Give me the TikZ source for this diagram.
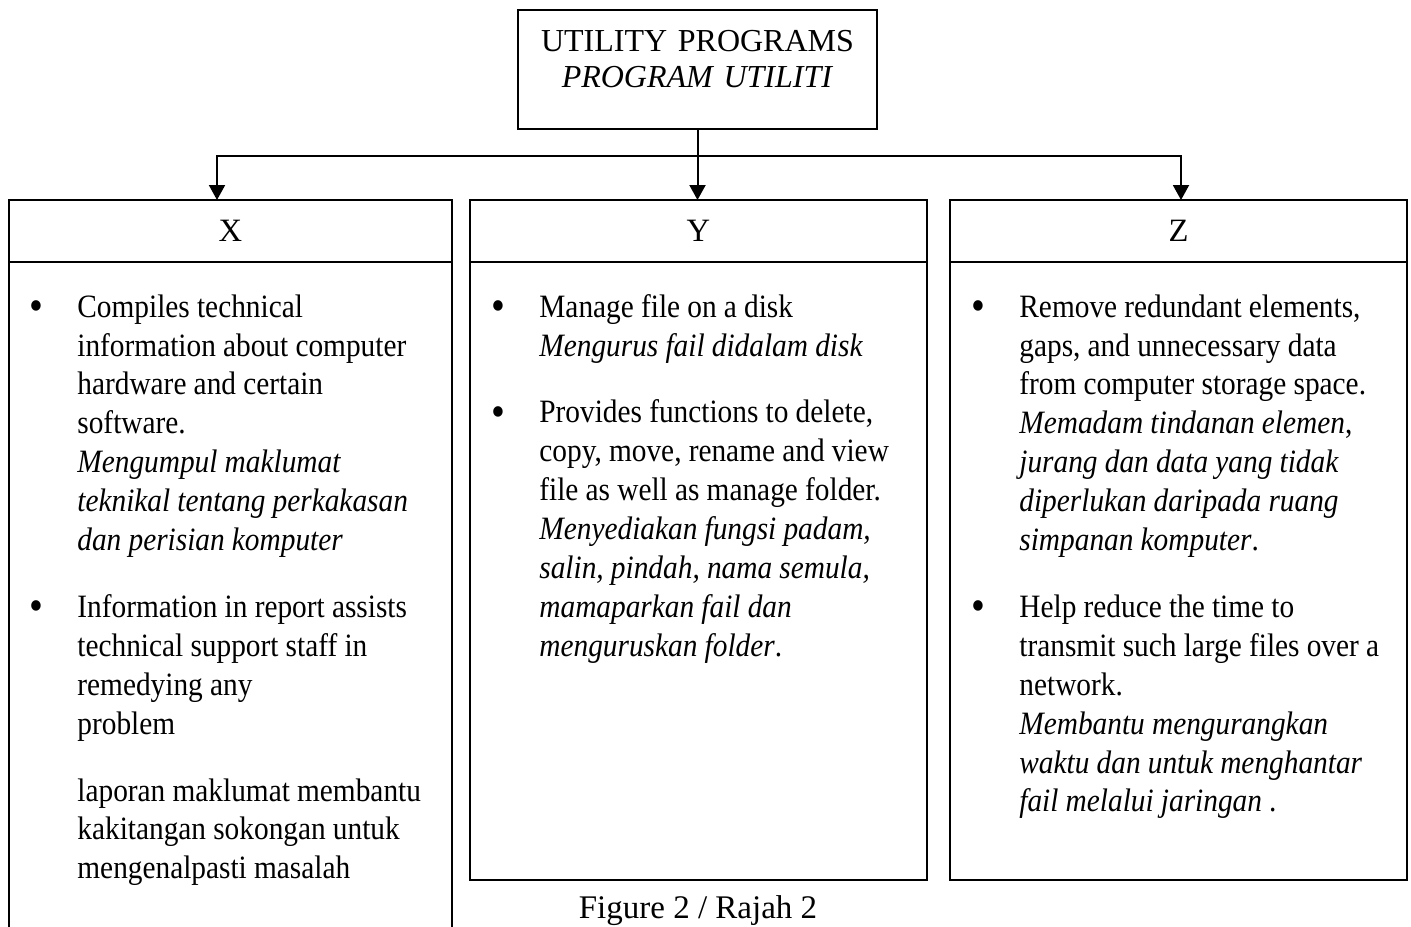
\documentclass[tikz,border=0pt]{standalone}
\usepackage{fontspec}
\setmainfont{Liberation Serif}
\newfontfamily\narrowserif{Liberation Serif}[FakeStretch=0.9]
\usetikzlibrary{arrows.meta}
\usetikzlibrary{positioning}

\newcommand{\itembullet}{\leavevmode\llap{\raisebox{-1.6pt}{\fontsize{22}{0}\selectfont\textbullet}\hspace{17pt}}}
\newcommand{\tightspaces}{\spaceskip=3.6pt\relax}

\tikzset{
  headbox/.style={draw,line width=1pt,inner sep=0pt,outer sep=0pt,minimum height=31pt,
    font=\fontsize{16.3}{19.45}\selectfont},
  bodybox/.style={draw,line width=1pt,inner sep=0pt,outer sep=0pt},
  bodytext/.style={anchor=north west,inner sep=0pt,text width=200pt,align=left,
    font=\narrowserif\fontsize{16.3}{19.45}\selectfont,
    execute at begin node=\tightspaces},
  arrow/.style={draw,line width=1pt,-{Triangle[length=7.5pt,width=8pt]}}
}

\begin{document}
\begin{tikzpicture}[x=0.5pt,y=-0.5pt]
  \useasboundingbox (0,0) rectangle (1411,926);

  % top box
  \node[bodybox,minimum width=179.5pt,minimum height=59.5pt] (top) at (697.5,69.5) {};
  \node[anchor=north,inner sep=0pt,text width=179.5pt,align=center,
        font=\fontsize{16}{18.3}\selectfont] (toptitle) at (697.5,25)
        {\strut UTILITY PROGRAMS\\ \textit{PROGRAM UTILITI}};

  % the three columns
  \begin{scope}[every node/.append style={minimum width=221.5pt}]
    \node[headbox] (xhead) at (230.5,231) {X};
    \node[bodybox,minimum height=334.5pt,below=0pt of xhead] (xbody) {};
  \end{scope}
  \begin{scope}[every node/.append style={minimum width=228.5pt}]
    \node[headbox] (yhead) at (698.5,231) {Y};
    \node[bodybox,minimum height=309pt,below=0pt of yhead] (ybody) {};
    \node[headbox] (zhead) at (1178.5,231) {Z};
    \node[bodybox,minimum height=309pt,below=0pt of zhead] (zbody) {};
  \end{scope}

  % connectors
  \coordinate (split) at (697.5,156);
  \draw[arrow] (top.south) -- (top.south |- yhead.north);
  \draw[arrow] (split) -| ([xshift=-6.75pt]xhead.north);
  \draw[arrow] (split) -| ([xshift=1.25pt]zhead.north);

  % column texts
  \node[bodytext] (xtext) at (77,289.5) {\itembullet\strut Compiles technical\\
    information about computer\\
    hardware and certain\\
    software.\\
    \textit{Mengumpul maklumat}\\
    \textit{teknikal tentang perkakasan}\\
    \textit{dan perisian komputer}\\[14pt]
    \itembullet Information in report assists\\
    technical support staff in\\
    remedying any\\
    problem\\[14pt]
    laporan maklumat membantu\\
    kakitangan sokongan untuk\\
    mengenalpasti masalah};

  \node[bodytext] (ytext) at (539,289.5) {\itembullet\strut Manage file on a disk\\
    \textit{Mengurus fail didalam disk}\\[14pt]
    \itembullet Provides functions to delete,\\
    copy, move, rename and view\\
    file as well as manage folder.\\
    \textit{Menyediakan fungsi padam,}\\
    \textit{salin, pindah, nama semula,}\\
    \textit{mamaparkan fail dan}\\
    \textit{menguruskan folder}.};

  \node[bodytext] (ztext) at (1019,289.5) {\itembullet\strut Remove redundant elements,\\
    gaps, and unnecessary data\\
    from computer storage space.\\
    \textit{Memadam tindanan elemen},\\
    \textit{jurang dan data yang tidak}\\
    \textit{diperlukan daripada ruang}\\
    \textit{simpanan komputer}.\\[14pt]
    \itembullet Help reduce the time to\\
    transmit such large files over a\\
    network.\\
    \textit{Membantu mengurangkan}\\
    \textit{waktu dan untuk menghantar}\\
    \textit{fail melalui jaringan} .};

  % caption
  \node[anchor=base,inner sep=0pt,font=\fontsize{16.5}{19}\selectfont] (caption) at (698,918)
    {Figure 2 / Rajah 2};
\end{tikzpicture}
\end{document}
